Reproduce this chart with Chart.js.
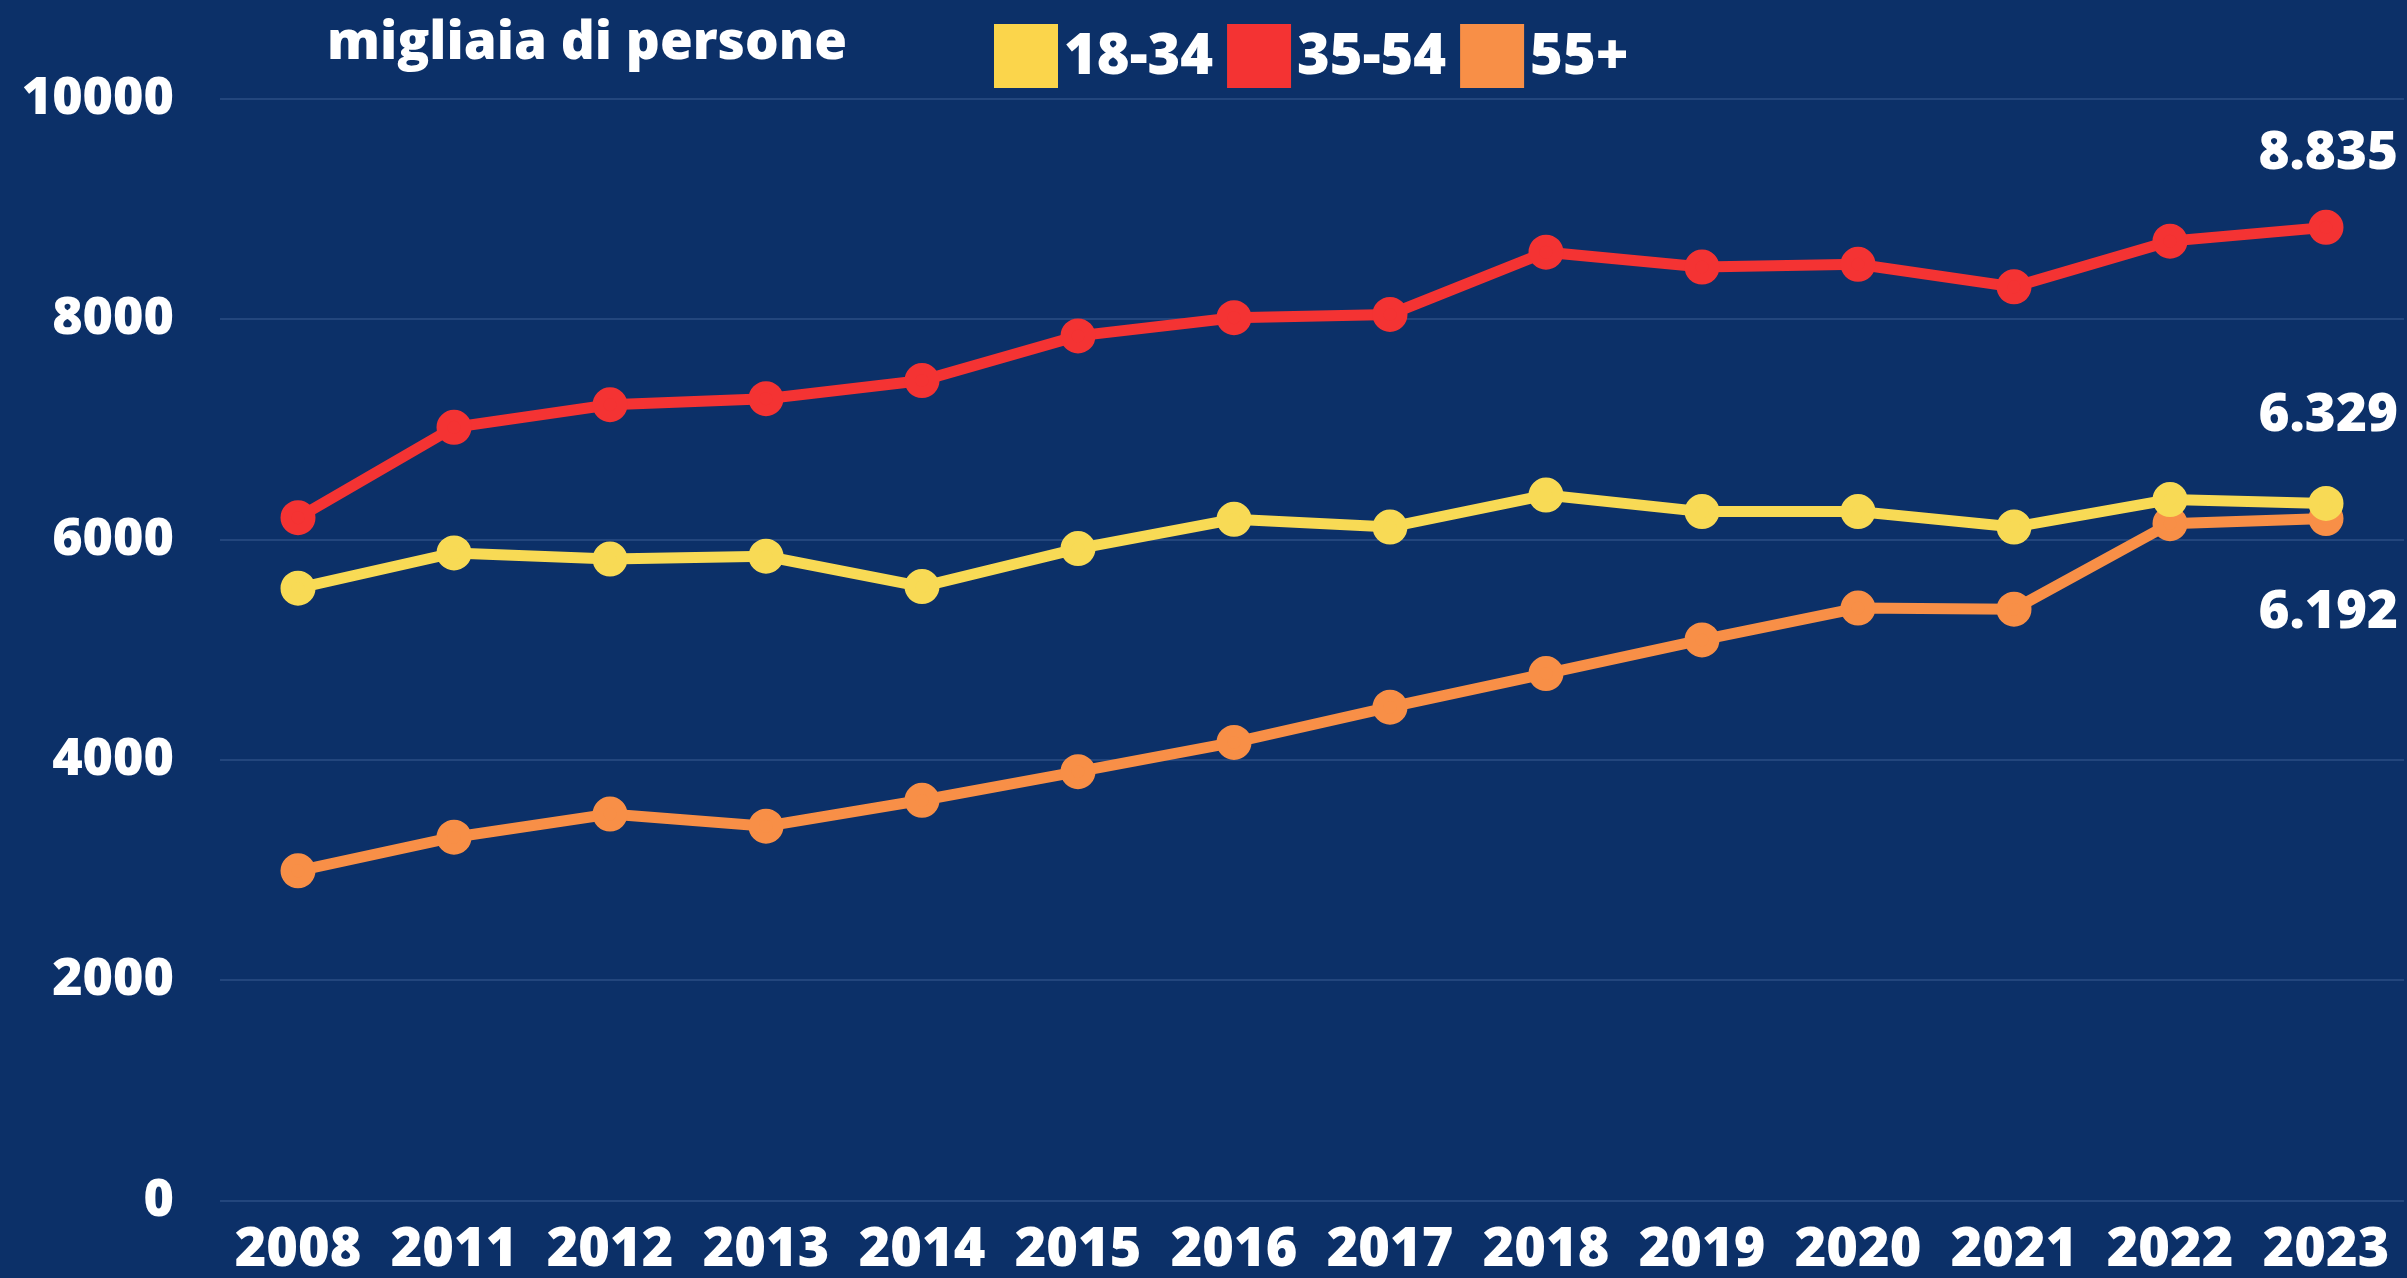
<!DOCTYPE html>
<html>
<head>
<meta charset="utf-8">
<script src="https://cdn.jsdelivr.net/npm/chart.js@4"></script>
<style>
    html, body { margin: 0; padding: 0; background: #0c3068; overflow: hidden; }
    #wrap { width: 2407px; height: 1278px; position: relative; }
</style>
</head>
<body>
<div id="wrap"><canvas id="occupatiChart"></canvas></div>
<script>
// anni sull'asse x
var years = ['2008', '2011', '2012', '2013', '2014', '2015', '2016', '2017', '2018', '2019', '2020', '2021', '2022', '2023'];

// valori in migliaia di persone
var age18to34 = [5560, 5880, 5825, 5850, 5575, 5920, 6185, 6115, 6405, 6255, 6255, 6115, 6365, 6329];
var age35to54 = [6200, 7020, 7225, 7280, 7445, 7850, 8015, 8045, 8610, 8475, 8500, 8295, 8710, 8835];
var age55plus = [2995, 3300, 3510, 3400, 3635, 3895, 4160, 4480, 4785, 5090, 5380, 5370, 6145, 6192];

var yTicks = [0, 2000, 4000, 6000, 8000, 10000];

var FONT = "'Open Sans', 'DejaVu Sans', sans-serif";

function makeSet(label, values, color) {
    return {
        label: label,
        data: values,
        borderColor: color,
        backgroundColor: color,
        pointBackgroundColor: color,
        pointBorderColor: color,
        borderWidth: 11,
        pointRadius: 12,
        pointHoverRadius: 12,
        tension: 0,
        fill: false
    };
}

// titolo + legenda in alto, disegnati a mano
var topLegend = {
    id: 'topLegend',
    afterDraw: function (chart) {
        var c = chart.ctx;
        c.save();
        c.fillStyle = '#ffffff';
        c.font = '800 53px ' + FONT;
        c.textBaseline = 'middle';
        c.textAlign = 'left';
        c.fillText('migliaia di persone', 327, 44);

        var x = 994;
        chart.data.datasets.forEach(function (ds) {
            c.fillStyle = ds.legendColor || ds.borderColor;
            c.fillRect(x, 24, 64, 64);
            x += 64 + 6;
            c.fillStyle = '#ffffff';
            c.font = '800 56px ' + FONT;
            c.fillText(ds.label, x, 58);
            x += c.measureText(ds.label).width + 14;
        });
        c.restore();
    }
};

// valori finali a destra
var endLabels = {
    id: 'endLabels',
    afterDatasetsDraw: function (chart) {
        var c = chart.ctx;
        var offsets = [-88, -73, 94];
        c.save();
        c.fillStyle = '#ffffff';
        c.font = '800 53px ' + FONT;
        c.textAlign = 'right';
        c.textBaseline = 'middle';
        chart.data.datasets.forEach(function (ds, i) {
            var meta = chart.getDatasetMeta(i);
            var last = meta.data[meta.data.length - 1];
            var v = ds.data[ds.data.length - 1];
            c.fillText(v.toLocaleString('it-IT'), 2398, last.y + offsets[i]);
        });
        c.restore();
    }
};

var ctx = document.getElementById('occupatiChart').getContext('2d');
var sets = [
    makeSet('18-34', age18to34, '#f8da55'),
    makeSet('35-54', age35to54, '#f43333'),
    makeSet('55+', age55plus, '#f88f47')
];
sets[0].legendColor = '#fbd54b';

var occupatiChart = new Chart(ctx, {
    type: 'line',
    data: {
        labels: years,
        datasets: sets
    },
    options: {
        responsive: true,
        maintainAspectRatio: false,
        animation: false,
        layout: {
            autoPadding: false,
            padding: { top: 99, left: 0, right: 3, bottom: 0 }
        },
        plugins: {
            legend: { display: false },
            title: { display: false },
            tooltip: { enabled: false }
        },
        scales: {
            x: {
                offset: true,
                grid: { display: false, drawTicks: false },
                border: { display: false },
                afterFit: function (axis) { axis.height = 67; },
                ticks: {
                    color: '#ffffff',
                    padding: 17,
                    maxRotation: 0,
                    autoSkip: false,
                    font: { family: FONT, size: 54, weight: '800' }
                }
            },
            y: {
                min: 0,
                max: 10000,
                afterBuildTicks: function (axis) {
                    axis.ticks = yTicks.map(function (v) { return { value: v }; });
                },
                afterFit: function (axis) { axis.width = 220; },
                grid: {
                    color: 'rgba(120, 150, 200, 0.22)',
                    lineWidth: 2,
                    drawTicks: false
                },
                border: { display: false },
                ticks: {
                    color: '#ffffff',
                    padding: 46,
                    font: { family: FONT, size: 52, weight: '800' },
                    callback: function (value) { return String(value); }
                }
            }
        }
    },
    plugins: [topLegend, endLabels]
});
</script>
</body>
</html>
